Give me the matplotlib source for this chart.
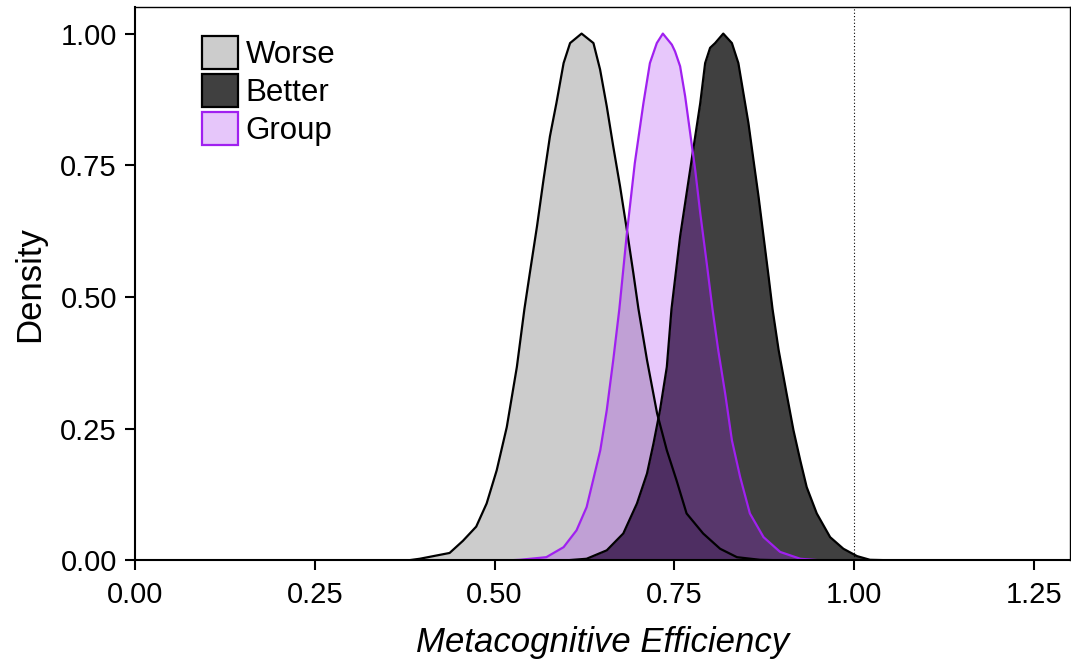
import numpy as np
import matplotlib.pyplot as plt
from matplotlib.patches import Patch

plt.rcParams['font.family'] = ['Liberation Sans', 'DejaVu Sans']

# density curves (scaled so the peak is 1)
worse_x = [0.38, 0.396, 0.4375, 0.456, 0.4745, 0.489, 0.503, 0.517, 0.531, 0.5415, 0.549,
           0.559, 0.568, 0.577, 0.586, 0.596, 0.605, 0.621, 0.6375, 0.6467, 0.656, 0.665,
           0.6745, 0.684, 0.693, 0.700, 0.712, 0.726, 0.7395, 0.753, 0.767, 0.790, 0.8136,
           0.837, 0.869, 0.90]
worse_y = [0.0, 0.003, 0.014, 0.037, 0.064, 0.108, 0.171, 0.253, 0.367, 0.477, 0.545,
           0.634, 0.722, 0.805, 0.868, 0.944, 0.982, 1.0, 0.982, 0.932, 0.862, 0.786,
           0.710, 0.627, 0.545, 0.478, 0.380, 0.279, 0.209, 0.152, 0.089, 0.051, 0.022,
           0.006, 0.001, 0.0]

better_x = [0.60, 0.628, 0.656, 0.679, 0.698, 0.712, 0.721, 0.730, 0.7395, 0.746, 0.758,
            0.774, 0.786, 0.7928, 0.7997, 0.8067, 0.818, 0.830, 0.839, 0.846, 0.853, 0.860,
            0.867, 0.874, 0.881, 0.8865, 0.895, 0.906, 0.9156, 0.925, 0.934, 0.948, 0.9666,
            0.985, 1.004, 1.022, 1.054]
better_y = [0.0, 0.003, 0.019, 0.051, 0.108, 0.165, 0.222, 0.285, 0.367, 0.477, 0.615,
            0.760, 0.868, 0.944, 0.973, 0.982, 1.0, 0.982, 0.944, 0.887, 0.830, 0.760,
            0.691, 0.615, 0.539, 0.477, 0.399, 0.317, 0.247, 0.190, 0.139, 0.089, 0.044,
            0.022, 0.008, 0.001, 0.0]

group_x = [0.52, 0.535, 0.572, 0.596, 0.614, 0.628, 0.637, 0.647, 0.656, 0.665, 0.6735,
           0.684, 0.695, 0.707, 0.716, 0.7256, 0.734, 0.7465, 0.751, 0.758, 0.765, 0.772,
           0.779, 0.786, 0.795, 0.803, 0.811, 0.8206, 0.830, 0.8415, 0.855, 0.874, 0.897,
           0.925, 0.953]
group_y = [0.0, 0.001, 0.006, 0.025, 0.057, 0.101, 0.152, 0.209, 0.285, 0.380, 0.477,
           0.621, 0.754, 0.868, 0.944, 0.982, 1.0, 0.979, 0.966, 0.938, 0.881, 0.811,
           0.741, 0.659, 0.564, 0.477, 0.399, 0.317, 0.228, 0.158, 0.089, 0.044, 0.016,
           0.003, 0.0]

labels = ['Worse', 'Better', 'Group']

fig = plt.figure(figsize=(10.71, 6.6), dpi=100)
ax = fig.add_axes([0.126, 0.151, 0.873, 0.838])

ax.fill_between(worse_x, worse_y, color='#cccccc', lw=0)
ax.plot(worse_x, worse_y, color='black', lw=1.6, solid_joinstyle='round')
ax.fill_between(better_x, better_y, color='black', alpha=0.75, lw=0)
ax.plot(better_x, better_y, color='black', lw=1.6, solid_joinstyle='round')
ax.fill_between(group_x, group_y, color='#a020f0', alpha=0.25, lw=0)
ax.plot(group_x, group_y, color='#a020f0', lw=1.6, solid_joinstyle='round')

ax.axvline(1.0, color='black', lw=0.8, ls=(0, (1, 2)))

ax.set_xlim(0, 1.30)
ax.set_ylim(0, 1.05)
ax.set_xticks([0, 0.25, 0.5, 0.75, 1.0, 1.25])
ax.set_yticks([0, 0.25, 0.5, 0.75, 1.0])
ax.xaxis.set_major_formatter(plt.FormatStrFormatter('%.2f'))
ax.yaxis.set_major_formatter(plt.FormatStrFormatter('%.2f'))
ax.tick_params(labelsize=21, length=7, width=1.5, direction='out')
ax.tick_params(axis='x', pad=8)
ax.tick_params(axis='y', pad=6)
for s in ax.spines.values():
    s.set_linewidth(1.0)
ax.spines['bottom'].set_linewidth(1.5)
ax.spines['left'].set_linewidth(1.5)

ax.set_xlabel('Metacognitive Efficiency', fontsize=25, style='italic', labelpad=12)
ax.set_ylabel('Density', fontsize=25, labelpad=10)

handles = [Patch(facecolor='#cccccc', edgecolor='black', lw=1.6),
           Patch(facecolor='#404040', edgecolor='black', lw=1.6),
           Patch(facecolor='#e6c6fa', edgecolor='#a020f0', lw=1.6)]
ax.legend(handles, labels, loc='upper left', bbox_to_anchor=(0.058, 0.97), frameon=False,
          fontsize=22.5, handlelength=1.15, handleheight=1.25, handletextpad=0.25,
          labelspacing=0.12, borderaxespad=0)

plt.savefig('out.png', dpi=100)
